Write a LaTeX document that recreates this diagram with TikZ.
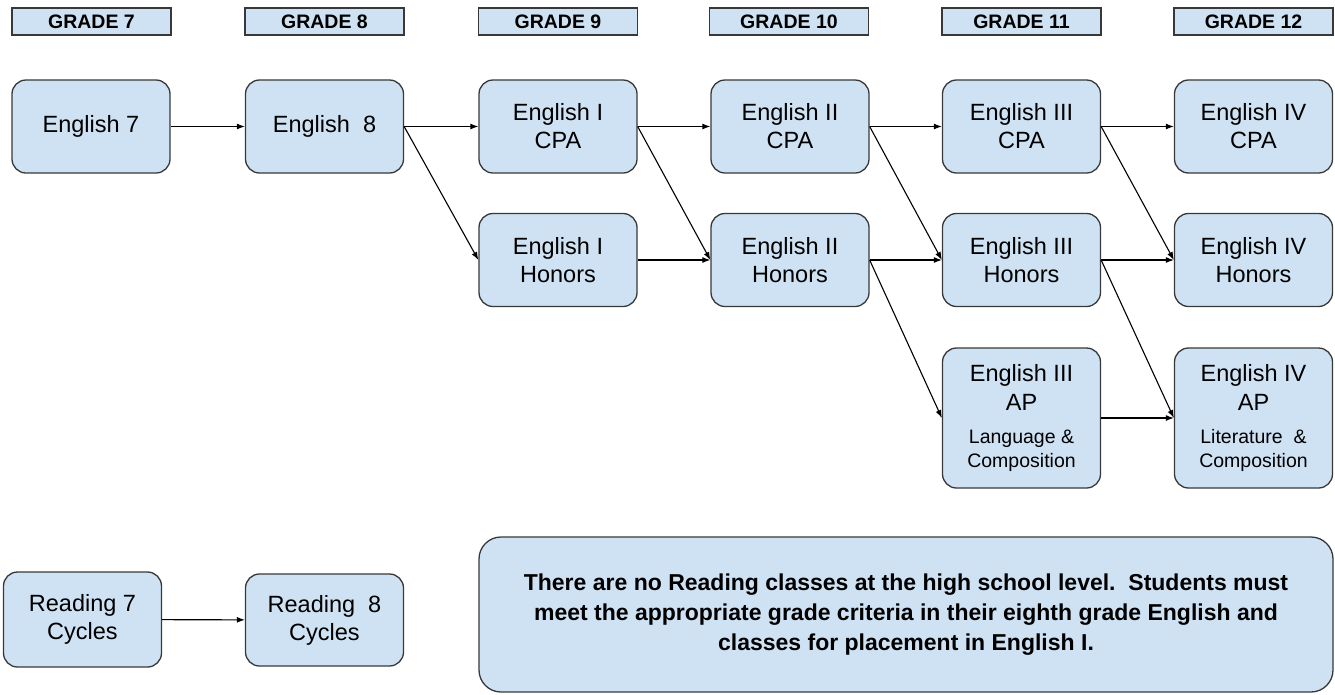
\documentclass[tikz,border=0pt]{standalone}
\usepackage{fontspec}
\setmainfont{Liberation Sans}
\usepackage{tikz}
\usetikzlibrary{arrows.meta}

\definecolor{boxblue}{HTML}{CFE2F3}
\definecolor{boxline}{HTML}{383838}

\newcommand{\bigtext}{\fontsize{23.5}{28}\selectfont}
\newcommand{\smalltext}{\fontsize{19.5}{22}\selectfont}

\tikzset{
  course/.style={draw=boxline, fill=boxblue, line width=1.3pt, rounded corners=14pt,
    minimum width=158pt, minimum height=93pt, align=center, font=\bigtext, inner sep=0pt},
  apcourse/.style={course, minimum height=140pt},
  grade/.style={draw=boxline, fill=boxblue, line width=1.3pt,
    minimum width=159pt, minimum height=27pt, inner sep=0pt,
    font=\fontsize{19.5}{22}\selectfont\bfseries},
  path/.style={-{Latex[length=8pt,width=6pt]}, line width=1.1pt, black},
}

\begin{document}
\begin{tikzpicture}[x=1pt, y=-1pt]
    \useasboundingbox (0,0) rectangle (1335,694);

    % grade headers
    \node[grade] (g7)  at (91.5,21.5)   {GRADE 7};
    \node[grade] (g8)  at (324.5,21.5)  {GRADE 8};
    \node[grade] (g9)  at (558,21.5)    {GRADE 9};
    \node[grade] (g10) at (789,21.5)    {GRADE 10};
    \node[grade] (g11) at (1021.5,21.5) {GRADE 11};
    \node[grade] (g12) at (1253.5,21.5) {GRADE 12};

    % courses
    \node[course] (e7) at (91,126.5)  {English 7};
    \node[course] (e8) at (324.5,126.5) {English\ \ 8};

    \node[course] (e1c) at (558,126.5) {English I\\CPA};
    \node[course] (e1h) at (558,260)   {English I\\Honors};

    \node[course] (e2c) at (790,126.5) {English II\\CPA};
    \node[course] (e2h) at (790,260)   {English II\\Honors};

    \node[course]   (e3c) at (1021.5,126.5) {English III\\CPA};
    \node[course]   (e3h) at (1021.5,260)   {English III\\Honors};
    \node[apcourse] (e3a) at (1021.5,418)
      {English III\\[1pt]AP\\[5pt]\smalltext Language \&\\[-4pt]\smalltext Composition};

    \node[course]   (e4c) at (1253.5,126.5) {English IV\\CPA};
    \node[course]   (e4h) at (1253.5,260)   {English IV\\Honors};
    \node[apcourse] (e4a) at (1253.5,418)
      {English IV\\[1pt]AP\\[5pt]\smalltext Literature\ \ \&\\[-4pt]\smalltext Composition};

    % reading
    \node[course, minimum height=95pt] (r7) at (82.5,619.5) {Reading 7\\Cycles};
    \node[course, minimum height=92pt] (r8) at (324.5,620)  {Reading\ \ 8\\Cycles};

    \node[course, rounded corners=22pt, minimum width=854pt, minimum height=155pt,
      font=\fontsize{23}{30}\selectfont\bfseries] (note) at (906,614.5)
      {There are no Reading classes at the high school level.\ \ Students must\\
       meet the appropriate grade criteria in their eighth grade English and\\
       classes for placement in English I.};

    % arrows
    \draw[path] (e7) -- (e8);
    \draw[path] (e8.east) -- (e1c.west);
    \draw[path] (e8.east) -- (e1h.west);
    \draw[path] (e1c.east) -- (e2c.west);
    \draw[path] (e1c.east) -- (e2h.west);
    \draw[path] (e1h.east) -- (e2h.west);
    \draw[path] (e2c.east) -- (e3c.west);
    \draw[path] (e2c.east) -- (e3h.west);
    \draw[path] (e2h.east) -- (e3h.west);
    \draw[path] (e2h.east) -- (e3a.west);
    \draw[path] (e3c.east) -- (e4c.west);
    \draw[path] (e3c.east) -- (e4h.west);
    \draw[path] (e3h.east) -- (e4h.west);
    \draw[path] (e3h.east) -- (e4a.west);
    \draw[path] (e3a.east) -- (e4a.west);
    \draw[path] (r7) -- (r8);
\end{tikzpicture}
\end{document}
